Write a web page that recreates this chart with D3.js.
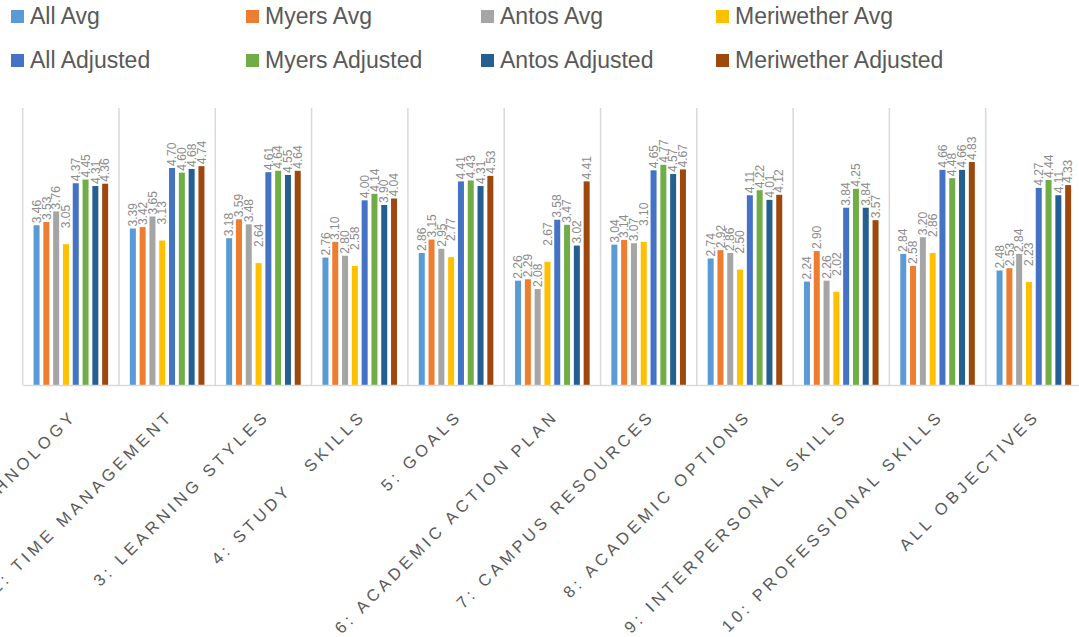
<!DOCTYPE html>
<html>
<head>
<meta charset="utf-8">
<script src="https://cdn.jsdelivr.net/npm/d3@7"></script>
<style>
  body { margin: 0; background: #fff; }
  svg { display: block; font-family: "Liberation Sans", Arial, sans-serif; }
</style>
</head>
<body>
<svg id="chart" width="1079" height="637"></svg>
<script>
// categories + series values
var categories = ["1: TECHNOLOGY", "2: TIME MANAGEMENT", "3: LEARNING STYLES", "4: STUDY   SKILLS",
  "5: GOALS", "6: ACADEMIC ACTION PLAN", "7: CAMPUS RESOURCES", "8: ACADEMIC OPTIONS",
  "9: INTERPERSONAL SKILLS", "10: PROFESSIONAL SKILLS", "ALL OBJECTIVES"];

var seriesNames = ["All Avg", "Myers Avg", "Antos Avg", "Meriwether Avg",
  "All Adjusted", "Myers Adjusted", "Antos Adjusted", "Meriwether Adjusted"];

var allAvg        = [3.46, 3.39, 3.18, 2.76, 2.86, 2.26, 3.04, 2.74, 2.24, 2.84, 2.48];
var myersAvg      = [3.53, 3.42, 3.59, 3.10, 3.15, 2.29, 3.14, 2.92, 2.90, 2.58, 2.53];
var antosAvg      = [3.76, 3.65, 3.48, 2.80, 2.95, 2.08, 3.07, 2.86, 2.26, 3.20, 2.84];
var meriwetherAvg = [3.05, 3.13, 2.64, 2.58, 2.77, 2.67, 3.10, 2.50, 2.02, 2.86, 2.23];
var allAdj        = [4.37, 4.70, 4.61, 4.00, 4.41, 3.58, 4.65, 4.11, 3.84, 4.66, 4.27];
var myersAdj      = [4.45, 4.60, 4.64, 4.14, 4.43, 3.47, 4.77, 4.22, 4.25, 4.48, 4.44];
var antosAdj      = [4.31, 4.68, 4.55, 3.90, 4.31, 3.02, 4.57, 4.01, 3.84, 4.66, 4.11];
var meriwetherAdj = [4.36, 4.74, 4.64, 4.04, 4.53, 4.41, 4.67, 4.12, 3.57, 4.83, 4.33];

var seriesValues = [allAvg, myersAvg, antosAvg, meriwetherAvg, allAdj, myersAdj, antosAdj, meriwetherAdj];

var colors = ["#5B9BD5", "#ED7D31", "#A5A5A5", "#FFC000", "#4472C4", "#70AD47", "#255E91", "#9E480E"];
// the Meriwether Avg labels sit higher in the original
var labelLift = [0, 0, 0, 14, 0, 0, 0, 0];

var svg = d3.select("#chart");

var plotLeft = 22.7, plotRight = 1082, plotTop = 108, plotBottom = 385;

var x0 = d3.scaleBand()
    .domain(categories)
    .range([plotLeft, plotRight])
    .paddingInner(0).paddingOuter(0);

var x1 = d3.scaleBand()
    .domain(seriesNames)
    .range([0, x0.bandwidth()])
    .paddingInner(0.388).paddingOuter(1.108);

var y = d3.scaleLinear().domain([0, 6]).range([plotBottom, plotTop]);

// category separators
var bounds = categories.map(function(c) { return x0(c); }).concat([plotRight]);
svg.append("g").selectAll("line")
    .data(bounds)
    .enter().append("line")
      .attr("x1", function(d) { return d; })
      .attr("x2", function(d) { return d; })
      .attr("y1", plotTop)
      .attr("y2", plotBottom)
      .attr("stroke", "#d9d9d9")
      .attr("stroke-width", 1.5);

// bars
var rows = [];
categories.forEach(function(c, i) {
  seriesNames.forEach(function(s, j) {
    rows.push({ cat: c, series: s, idx: j, value: seriesValues[j][i] });
  });
});

var groups = svg.append("g");

groups.selectAll("rect")
    .data(rows)
    .enter().append("rect")
      .attr("x", function(d) { return x0(d.cat) + x1(d.series); })
      .attr("y", function(d) { return y(d.value); })
      .attr("width", x1.bandwidth())
      .attr("height", function(d) { return y(0) - y(d.value); })
      .attr("fill", function(d) { return colors[d.idx]; });

// value labels, rotated
groups.selectAll("text")
    .data(rows)
    .enter().append("text")
      .attr("transform", function(d) {
        var cx = x0(d.cat) + x1(d.series) + x1.bandwidth() / 2;
        var cy = y(d.value) - 2 - labelLift[d.idx];
        return "translate(" + cx + "," + cy + ") rotate(-90)";
      })
      .attr("dy", "0.35em")
      .attr("font-size", 12)
      .attr("fill", "#8c8c8c")
      .text(function(d) { return d.value.toFixed(2); });

// x axis
var xAxis = svg.append("g")
    .attr("transform", "translate(0," + plotBottom + ")")
    .call(d3.axisBottom(x0).tickSize(0).tickPadding(0));

xAxis.select(".domain")
    .attr("stroke", "#d9d9d9")
    .attr("stroke-width", 1.5);

xAxis.selectAll("text")
    .attr("font-size", 16.5)
    .attr("font-family", "'Liberation Sans', Arial, sans-serif")
    .attr("fill", "#595959")
    .attr("letter-spacing", "3.9px")
    .attr("text-anchor", "end")
    .attr("dy", null)
    .attr("y", null)
    .attr("transform", "translate(7,32) rotate(-45)")
    .style("white-space", "pre");

// legend
var legend = svg.append("g");
var item = legend.selectAll("g")
    .data(seriesNames)
    .enter().append("g")
      .attr("transform", function(d, i) {
        return "translate(" + (11 + (i % 4) * 235) + "," + (10 + Math.floor(i / 4) * 44) + ")";
      });

item.append("rect")
    .attr("width", 13).attr("height", 13)
    .attr("fill", function(d, i) { return colors[i]; });

item.append("text")
    .attr("x", 19).attr("y", 13.5)
    .attr("font-size", 23)
    .attr("fill", "#595959")
    .text(function(d) { return d; });
</script>
</body>
</html>
